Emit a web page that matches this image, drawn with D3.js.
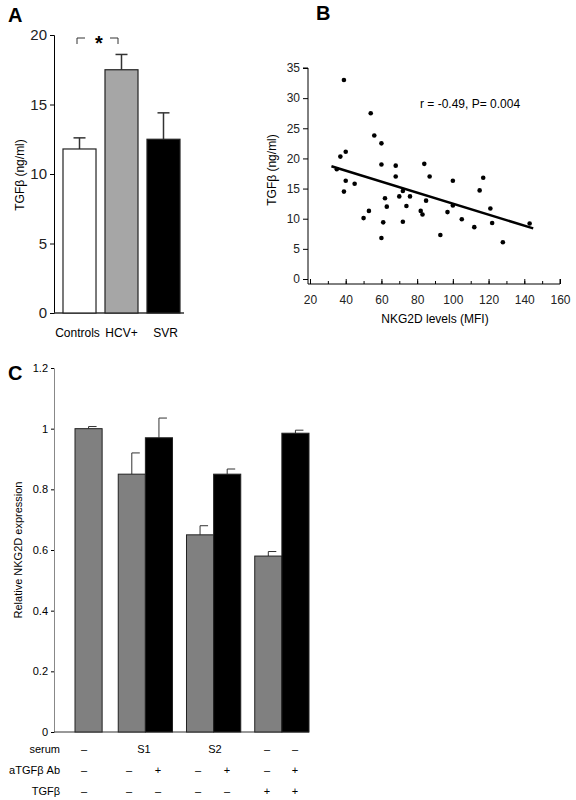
<!DOCTYPE html><html><head><script src="https://cdn.jsdelivr.net/npm/d3@7"></script>
<style>body{margin:0;background:#fff}text{font-family:"Liberation Sans",Arial,sans-serif}</style></head><body>
<script>
const aCats=["Controls","HCV+","SVR"], aVals=[11.8,17.5,12.5], aErr=[0.8,1.1,1.9], aColors=["#fff","#a6a6a6","#000"];
const bX=[35,37,39,39,40,40,45,50,53,54,56,60,60,60,61,62,63,68,68,70,72,72,74,76,82,83,84,85,87,93,97,100,100,105,112,115,117,121,122,128,143];
const bY=[18.2,20.3,33,14.5,16.3,21.1,15.8,10.1,11.3,27.5,23.8,22.5,19,6.8,9.4,13.4,12,18.8,17,13.7,14.6,9.5,12.1,13.7,11.3,10.7,19.1,13,17,7.3,11.1,16.3,12.2,9.9,8.6,14.7,16.8,11.7,9.3,6.1,9.2];
const bLine=[[32,18.7],[145,8.4]];
const cGroups=["g1","g2","g3","g4"];
const cGray=[1.0,0.85,0.65,0.58], cGrayErr=[0.007,0.07,0.03,0.015];
const cBlack=[null,0.97,0.85,0.985], cBlackErr=[null,0.065,0.017,0.01];
const rowLabels=["serum","aTGFβ Ab","TGFβ"];
const rowVals=[["–","","S1","","S2","–","–"],["–","–","+","–","+","–","+"],["–","–","–","–","–","+","+"]];
const svg=d3.select("body").append("svg").attr("width",576).attr("height",800);
// Panel A
svg.append("text").text("A").attr("x",8).attr("y",22).attr("font-size",20).attr("font-weight","bold");
const ay=d3.scaleLinear().domain([0,20]).range([313,35]);
const ax=d3.scaleBand().domain(aCats).range([63,180]).paddingInner(0.214).paddingOuter(0);
const gA=svg.append("g").attr("transform","translate(54,0)").call(d3.axisLeft(ay).ticks(4).tickSize(4));
gA.selectAll("text").attr("font-size",15).attr("fill","#222");
svg.append("line").attr("x1",54).attr("x2",184).attr("y1",313).attr("y2",313).attr("stroke","#333").attr("stroke-width",1.5);
aCats.forEach((c,i)=>{
 const x=ax(c),w=ax.bandwidth(),cx=x+w/2;
 svg.append("line").attr("x1",cx).attr("x2",cx).attr("y1",ay(aVals[i])).attr("y2",ay(aVals[i]+aErr[i])).attr("stroke","#333").attr("stroke-width",1.5);
 svg.append("line").attr("x1",cx-6).attr("x2",cx+6).attr("y1",ay(aVals[i]+aErr[i])).attr("y2",ay(aVals[i]+aErr[i])).attr("stroke","#333").attr("stroke-width",1.5);
 svg.append("rect").attr("x",x).attr("y",ay(aVals[i])).attr("width",w).attr("height",313-ay(aVals[i])).attr("fill",aColors[i]).attr("stroke","#222").attr("stroke-width",1.2);
 svg.append("text").text(c).attr("x",cx+(i===0?-2:i===2?2:0)).attr("y",337).attr("text-anchor","middle").attr("font-size",12);
});
svg.append("path").attr("d","M77,44V38H85M110,38H118V44").attr("fill","none").attr("stroke","#333");
svg.append("text").text("*").attr("x",99).attr("y",50).attr("text-anchor","middle").attr("font-size",20).attr("font-weight","bold");
svg.append("text").text("TGFβ  (ng/ml)").attr("transform","translate(24,175)rotate(-90)").attr("text-anchor","middle").attr("font-size",12);
// Panel B
svg.append("text").text("B").attr("x",316).attr("y",20).attr("font-size",20).attr("font-weight","bold");
const bx=d3.scaleLinear().domain([20,160]).range([310,560]);
const by=d3.scaleLinear().domain([0,35]).range([279,68]);
const gBy=svg.append("g").attr("transform","translate(308,0)").call(d3.axisLeft(by).ticks(7).tickSize(5));
gBy.select(".domain").attr("d","M-5,68H0V284");
const gBx=svg.append("g").attr("transform","translate(0,284)").call(d3.axisTop(bx).ticks(7).tickSize(5));
gBx.select(".domain").attr("d","M308,0H560V-5");
gBx.selectAll("text").attr("y",20);
svg.append("g").attr("transform","translate(0,284)").call(d3.axisTop(bx).ticks(14).tickSize(3).tickFormat("")).select(".domain").remove();
[gBy,gBx].forEach(g=>g.selectAll("text").attr("font-size",12).attr("fill","#222"));
bX.forEach((v,i)=>svg.append("circle").attr("cx",bx(v)).attr("cy",by(bY[i])).attr("r",2.3).attr("fill","#000"));
svg.append("line").attr("x1",bx(bLine[0][0])).attr("y1",by(bLine[0][1])).attr("x2",bx(bLine[1][0])).attr("y2",by(bLine[1][1])).attr("stroke","#000").attr("stroke-width",2.5);
svg.append("text").text("r = -0.49, P= 0.004").attr("x",420).attr("y",108).attr("font-size",12);
svg.append("text").text("NKG2D levels (MFI)").attr("x",435).attr("y",323).attr("text-anchor","middle").attr("font-size",12);
svg.append("text").text("TGFβ  (ng/ml)").attr("transform","translate(276,170)rotate(-90)").attr("text-anchor","middle").attr("font-size",12);
// Panel C
svg.append("text").text("C").attr("x",8).attr("y",380).attr("font-size",20).attr("font-weight","bold");
const cy=d3.scaleLinear().domain([0,1.2]).range([732,368]);
const gx=d3.scaleBand().domain(cGroups).range([50,309]).paddingInner(0.205).paddingOuter(0);
const gC=svg.append("g").attr("transform","translate(54,0)").call(d3.axisLeft(cy).ticks(6).tickSize(3).tickFormat(d=>d===0?"0":d===1?"1":d3.format(".1f")(d)));
gC.selectAll("text").attr("font-size",11);gC.select(".domain").attr("stroke","#888");
svg.append("line").attr("x1",54).attr("x2",309).attr("y1",732).attr("y2",732).attr("stroke","#333");
const bw=gx.bandwidth()/2;
function bar(x,v,e,col){
 const cx=x+bw/2;
 svg.append("line").attr("x1",cx).attr("x2",cx).attr("y1",cy(v)).attr("y2",cy(v+e)).attr("stroke","#333");
 svg.append("line").attr("x1",cx).attr("x2",cx+8).attr("y1",cy(v+e)).attr("y2",cy(v+e)).attr("stroke","#333");
 svg.append("rect").attr("x",x).attr("y",cy(v)).attr("width",bw).attr("height",732-cy(v)).attr("fill",col).attr("stroke","#222");
}
cGroups.forEach((g,i)=>{
 const off=cBlack[i]==null?25:0;
 bar(gx(g)+off,cGray[i],cGrayErr[i],"#808080");
 if(cBlack[i]!=null) bar(gx(g)+bw,cBlack[i],cBlackErr[i],"#000");
});
svg.append("text").text("Relative NKG2D expression").attr("transform","translate(22,550)rotate(-90)").attr("text-anchor","middle").attr("font-size",11);
const colX=[84,129,158,198,227,267,295];
rowLabels.forEach((l,r)=>{
 const y=753+r*21;
 svg.append("text").text(l).attr("x",60).attr("y",y).attr("text-anchor","end").attr("font-size",11);
 rowVals[r].forEach((v,j)=>{ if(v) svg.append("text").text(v).attr("x",colX[j]+(v.startsWith("S")?-(j===2?14:12):0)).attr("y",y).attr("text-anchor","middle").attr("font-size",11);});
});
</script></body></html>
